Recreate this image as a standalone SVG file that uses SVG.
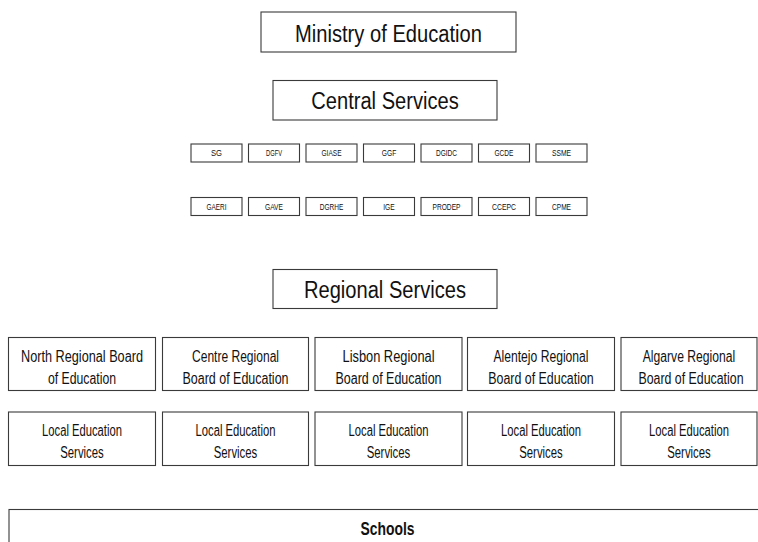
<svg xmlns="http://www.w3.org/2000/svg" width="758" height="542" viewBox="0 0 758 542">
<style>
  rect { fill: #ffffff; stroke: #3a3a3a; stroke-width: 1.1; }
  text { font-family: "Liberation Sans", Arial, sans-serif; fill: #111111; text-anchor: middle; }
  .big { font-size: 23px; }
  .mid { font-size: 16px; }
  .small { font-size: 9px; }
  .bold { font-size: 18px; font-weight: bold; }
</style>
<rect x="0" y="0" width="758" height="542" style="fill:#ffffff;stroke:none"/>
<g id="connectors"/>
<g id="ministry">
  <rect x="261" y="12" width="255" height="40"/>
  <text class="big" x="388.5" y="42" textLength="187" lengthAdjust="spacingAndGlyphs">Ministry of Education</text>
</g>
<g id="central">
  <rect x="273" y="80.5" width="224" height="39.5"/>
  <text class="big" x="385" y="109" textLength="147.5" lengthAdjust="spacingAndGlyphs">Central Services</text>
</g>
<g id="sg"><rect x="191" y="144" width="51" height="18"/><text class="small" x="216.5" y="156.3" textLength="11" lengthAdjust="spacingAndGlyphs">SG</text></g>
<g id="dgfv"><rect x="248.5" y="144" width="51" height="18"/><text class="small" x="274" y="156.3" textLength="16" lengthAdjust="spacingAndGlyphs">DGFV</text></g>
<g id="giase"><rect x="306" y="144" width="51" height="18"/><text class="small" x="331.5" y="156.3" textLength="20" lengthAdjust="spacingAndGlyphs">GIASE</text></g>
<g id="ggf"><rect x="363.5" y="144" width="51" height="18"/><text class="small" x="389" y="156.3" textLength="14.5" lengthAdjust="spacingAndGlyphs">GGF</text></g>
<g id="dgidc"><rect x="421" y="144" width="51" height="18"/><text class="small" x="446.5" y="156.3" textLength="21" lengthAdjust="spacingAndGlyphs">DGIDC</text></g>
<g id="gcde"><rect x="478.5" y="144" width="51" height="18"/><text class="small" x="504" y="156.3" textLength="19" lengthAdjust="spacingAndGlyphs">GCDE</text></g>
<g id="ssme"><rect x="536" y="144" width="51" height="18"/><text class="small" x="561.5" y="156.3" textLength="19" lengthAdjust="spacingAndGlyphs">SSME</text></g>
<g id="gaeri"><rect x="191" y="197.5" width="51" height="18"/><text class="small" x="216.5" y="209.8" textLength="20" lengthAdjust="spacingAndGlyphs">GAERI</text></g>
<g id="gave"><rect x="248.5" y="197.5" width="51" height="18"/><text class="small" x="274" y="209.8" textLength="18" lengthAdjust="spacingAndGlyphs">GAVE</text></g>
<g id="dgrhe"><rect x="306" y="197.5" width="51" height="18"/><text class="small" x="331.5" y="209.8" textLength="23.5" lengthAdjust="spacingAndGlyphs">DGRHE</text></g>
<g id="ige"><rect x="363.5" y="197.5" width="51" height="18"/><text class="small" x="389" y="209.8" textLength="11.5" lengthAdjust="spacingAndGlyphs">IGE</text></g>
<g id="prodep"><rect x="421" y="197.5" width="51" height="18"/><text class="small" x="446.5" y="209.8" textLength="28" lengthAdjust="spacingAndGlyphs">PRODEP</text></g>
<g id="ccepc"><rect x="478.5" y="197.5" width="51" height="18"/><text class="small" x="504" y="209.8" textLength="24" lengthAdjust="spacingAndGlyphs">CCEPC</text></g>
<g id="cpme"><rect x="536" y="197.5" width="51" height="18"/><text class="small" x="561.5" y="209.8" textLength="19" lengthAdjust="spacingAndGlyphs">CPME</text></g>
<g id="regional">
  <rect x="273" y="269.5" width="224" height="39"/>
  <text class="big" x="385" y="298" textLength="162" lengthAdjust="spacingAndGlyphs">Regional Services</text>
</g>
<g id="north-board">
  <rect x="8.5" y="337.5" width="147" height="53"/>
  <text class="mid" x="82" y="361.5" textLength="122" lengthAdjust="spacingAndGlyphs">North Regional Board</text>
  <text class="mid" x="82" y="383.5" textLength="68" lengthAdjust="spacingAndGlyphs">of Education</text>
</g>
<g id="centre-board">
  <rect x="162.5" y="337.5" width="146" height="53"/>
  <text class="mid" x="235.5" y="361.5" textLength="87" lengthAdjust="spacingAndGlyphs">Centre Regional</text>
  <text class="mid" x="235.5" y="383.5" textLength="106" lengthAdjust="spacingAndGlyphs">Board of Education</text>
</g>
<g id="lisbon-board">
  <rect x="315" y="337.5" width="147" height="53"/>
  <text class="mid" x="388.5" y="361.5" textLength="92" lengthAdjust="spacingAndGlyphs">Lisbon Regional</text>
  <text class="mid" x="388.5" y="383.5" textLength="106" lengthAdjust="spacingAndGlyphs">Board of Education</text>
</g>
<g id="alentejo-board">
  <rect x="467.5" y="337.5" width="147" height="53"/>
  <text class="mid" x="541" y="361.5" textLength="95" lengthAdjust="spacingAndGlyphs">Alentejo Regional</text>
  <text class="mid" x="541" y="383.5" textLength="105.5" lengthAdjust="spacingAndGlyphs">Board of Education</text>
</g>
<g id="algarve-board">
  <rect x="621" y="337.5" width="136" height="53"/>
  <text class="mid" x="689" y="361.5" textLength="92.5" lengthAdjust="spacingAndGlyphs">Algarve Regional</text>
  <text class="mid" x="691" y="383.5" textLength="105" lengthAdjust="spacingAndGlyphs">Board of Education</text>
</g>
<g id="north-local">
  <rect x="8.5" y="412" width="147" height="53.5"/>
  <text class="mid" x="82" y="436" textLength="80" lengthAdjust="spacingAndGlyphs">Local Education</text>
  <text class="mid" x="82" y="457.5" textLength="43.5" lengthAdjust="spacingAndGlyphs">Services</text>
</g>
<g id="centre-local">
  <rect x="162.5" y="412" width="146" height="53.5"/>
  <text class="mid" x="235.5" y="436" textLength="80" lengthAdjust="spacingAndGlyphs">Local Education</text>
  <text class="mid" x="235.5" y="457.5" textLength="43.5" lengthAdjust="spacingAndGlyphs">Services</text>
</g>
<g id="lisbon-local">
  <rect x="315" y="412" width="147" height="53.5"/>
  <text class="mid" x="388.5" y="436" textLength="80" lengthAdjust="spacingAndGlyphs">Local Education</text>
  <text class="mid" x="388.5" y="457.5" textLength="43.5" lengthAdjust="spacingAndGlyphs">Services</text>
</g>
<g id="alentejo-local">
  <rect x="467.5" y="412" width="147" height="53.5"/>
  <text class="mid" x="541" y="436" textLength="80" lengthAdjust="spacingAndGlyphs">Local Education</text>
  <text class="mid" x="541" y="457.5" textLength="43.5" lengthAdjust="spacingAndGlyphs">Services</text>
</g>
<g id="algarve-local">
  <rect x="621" y="412" width="136" height="53.5"/>
  <text class="mid" x="689" y="436" textLength="80" lengthAdjust="spacingAndGlyphs">Local Education</text>
  <text class="mid" x="689" y="457.5" textLength="43.5" lengthAdjust="spacingAndGlyphs">Services</text>
</g>
<g id="schools">
  <rect x="9" y="509.5" width="760" height="40"/>
  <text class="bold" x="387.5" y="535" textLength="54" lengthAdjust="spacingAndGlyphs">Schools</text>
</g>
</svg>
